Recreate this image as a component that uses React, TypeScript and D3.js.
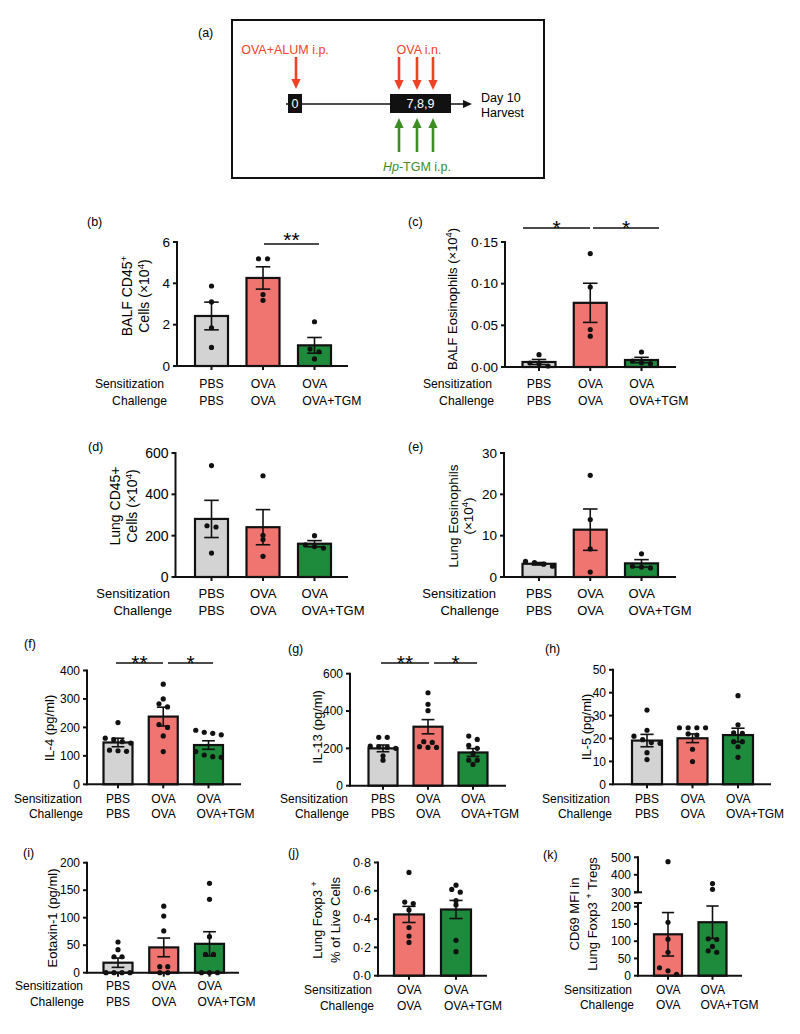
import React from "react";
import * as d3 from "d3";

// ---------- shared categories ----------
const groups3 = ["PBS/PBS", "OVA/OVA", "OVA/OVA+TGM"];
const groups2 = ["OVA/OVA", "OVA/OVA+TGM"];
const sensitization3 = ["PBS", "OVA", "OVA"];
const challenge3 = ["PBS", "OVA", "OVA+TGM"];
const sensitization2 = ["OVA", "OVA"];
const challenge2 = ["OVA", "OVA+TGM"];

// ---------- (b) BALF CD45+ ----------
const bTicks = [0, 2, 4, 6];
const bMeans = [2.42, 4.26, 1.0];
const bSem = [0.67, 0.54, 0.38];
const bPoints = [[3.87, 3.1, 1.85, 0.9], [5.19, 5.19, 3.46, 3.18], [2.14, 0.82, 0.69, 0.34]];

// ---------- (c) BALF eosinophils ----------
const cTicks = [0, 0.05, 0.1, 0.15];
const cTickLabels = ["0·00", "0·05", "0·10", "0·15"];
const cMeans = [0.006, 0.077, 0.0084];
const cSem = [0.003, 0.0235, 0.0032];
const cPoints = [[0.0148, 0.0048, 0.004, 0.0012], [0.136, 0.096, 0.045, 0.037], [0.018, 0.007, 0.005, 0.004]];

// ---------- (d) Lung CD45+ ----------
const dTicks = [0, 200, 400, 600];
const dMeans = [281, 241, 161];
const dSem = [90, 85, 15];
const dPoints = [[539, 248, 242, 116], [490, 202, 181, 100], [200, 155, 147, 140]];

// ---------- (e) Lung eosinophils ----------
const eTicks = [0, 10, 20, 30];
const eMeans = [3.2, 11.45, 3.3];
const eSem = [0.3, 5.0, 0.9];
const ePoints = [[3.8, 3.5, 3.1, 2.6], [24.6, 13.9, 6.8, 1.2], [5.6, 2.6, 2.4, 2.2]];

// ---------- (f) IL-4 ----------
const fTicks = [0, 100, 200, 300, 400];
const fMeans = [147, 238, 138];
const fSem = [15, 33, 15];
const fPoints = [
  [217, 162, 157, 150, 145, 120, 118, 116],
  [352, 300, 283, 272, 210, 200, 170, 115],
  [190, 183, 179, 174, 115, 103, 97, 95],
];

// ---------- (g) IL-13 ----------
const gTicks = [0, 200, 400, 600];
const gMeans = [200, 316, 178];
const gSem = [18, 38, 21];
const gPoints = [
  [259, 259, 212, 208, 205, 200, 160, 137],
  [498, 436, 402, 236, 232, 209, 205, 205],
  [266, 248, 216, 200, 173, 137, 137, 114],
];

// ---------- (h) IL-5 ----------
const hTicks = [0, 10, 20, 30, 40, 50];
const hMeans = [19.1, 20.1, 21.5];
const hSem = [2.7, 1.9, 3.0];
const hPoints = [
  [32.4, 23.6, 21, 19.5, 18.2, 17.9, 13.8, 10.8],
  [24.7, 24.7, 24.7, 24.7, 22, 21.5, 15.3, 9.9],
  [38.7, 26, 22.5, 22.3, 18.6, 18.6, 16.4, 11.8],
];

// ---------- (i) Eotaxin-1 ----------
const iTicks = [0, 50, 100, 150, 200];
const iMeans = [18.2, 46, 52.5];
const iSem = [8.5, 17, 22];
const iPoints = [
  [55.8, 41.8, 29, 29, 0, 0, 0, 0],
  [121, 103, 76, 11, 11, 0, 0],
  [162.5, 133.5, 65.5, 33.3, 33.3, 0, 0, 0],
];

// ---------- (j) Lung Foxp3+ ----------
const jTicks = [0, 0.2, 0.4, 0.6, 0.8];
const jTickLabels = ["0·0", "0·2", "0·4", "0·6", "0·8"];
const jMeans = [0.433, 0.468];
const jSem = [0.057, 0.064];
const jPoints = [[0.73, 0.52, 0.51, 0.465, 0.34, 0.28, 0.235], [0.64, 0.61, 0.59, 0.53, 0.5, 0.25, 0.17]];

// ---------- (k) CD69 MFI ----------
const kTicksLow = [0, 50, 100, 150, 200];
const kTicksHigh = [300, 400, 500];
const kMeans = [120, 155];
const kSem = [63, 47];
const kPoints = [[475, 155, 106, 68, 23, 14, 4], [350, 317, 107, 105, 85, 72, 68]];

// ---------- (a) schematic text ----------
const aSensText = "OVA+ALUM i.p.";
const aChalText = "OVA i.n.";
const aDay0 = "0";
const aDays = "7,8,9";
const aHarvest = ["Day 10", "Harvest"];

const FONT = "'Liberation Sans', Arial, Helvetica, sans-serif";
const COLORS3 = ["#d3d3d3", "#f07571", "#1e8a3c"];
const COLORS2 = ["#f07571", "#1e8a3c"];

type Seg = { t: string; sup?: boolean };

function Rich({ parts }: { parts: Seg[] }) {
  return (
    <>
      {parts.map((p, i) =>
        p.sup ? (
          <tspan key={i} baselineShift="super" fontSize="0.7em">
            {p.t}
          </tspan>
        ) : (
          <tspan key={i}>{p.t}</tspan>
        )
      )}
    </>
  );
}

function swarm(vals: number[], yf: (v: number) => number, step: number, thr = 3.5) {
  const items = vals.map((v, i) => ({ v, i, py: yf(v), dx: 0 })).sort((a, b) => a.py - b.py);
  const clusters: (typeof items)[] = [];
  items.forEach((it) => {
    const cur = clusters[clusters.length - 1];
    if (cur && it.py - cur[cur.length - 1].py < thr) cur.push(it);
    else clusters.push([it]);
  });
  clusters.forEach((cl) => {
    const n = cl.length;
    cl.forEach((it, k) => (it.dx = (k - (n - 1) / 2) * step));
  });
  return items;
}

type PanelProps = {
  label: string;
  labelX: number;
  labelY: number;
  groups: string[];
  sens: string[];
  chal: string[];
  colors: string[];
  means: number[];
  sem: number[];
  points: number[][];
  ticks: number[];
  tickLabels?: string[];
  domain?: [number, number];
  axisX: number;
  y0: number;
  yTop: number;
  xEnd: number;
  firstC: number;
  lastC: number;
  barW: number;
  step: number;
  ylab: { x: number; parts: Seg[] }[];
  ylabCy: number;
  sensBase: number;
  chalBase: number;
  sensEnd: number;
  chalEnd: number;
  tickFs?: number;
  catFs?: number;
  ylabFs?: number;
  sig?: { x1: number; x2: number; y: number; text: string; dy?: number }[];
  broken?: boolean;
};

function Panel(p: PanelProps) {
  const tickFs = p.tickFs ?? 12;
  const catFs = p.catFs ?? 12;
  const ylabFs = p.ylabFs ?? 13;
  let yf: (v: number) => number;
  let lowScale: d3.ScaleLinear<number, number> | null = null;
  let highScale: d3.ScaleLinear<number, number> | null = null;
  if (p.broken) {
    lowScale = d3.scaleLinear().domain([0, 200]).range([p.y0, 906.7]);
    highScale = d3.scaleLinear().domain([300, 500]).range([892.3, 857.3]);
    const ls = lowScale, hs = highScale;
    yf = (v: number) => (v <= 250 ? ls(v) : hs(v));
  } else {
    const s = d3.scaleLinear().domain(p.domain!).range([p.y0, p.yTop]);
    yf = (v: number) => s(v);
  }
  const x = d3.scalePoint<string>().domain(p.groups).range([p.firstC, p.lastC]);
  const capW = p.barW * 0.44;
  const tick = 4;

  return (
    <g fontFamily={FONT}>
      <text x={p.labelX} y={p.labelY} fontSize={12.5}>
        {p.label}
      </text>
      {/* bars */}
      {p.groups.map((g, i) => {
        const cx = x(g)!;
        const top = yf(p.means[i]);
        return (
          <rect
            key={"b" + i}
            x={cx - p.barW / 2}
            y={top}
            width={p.barW}
            height={p.y0 - top}
            fill={p.colors[i]}
            stroke="#111"
            strokeWidth={2.2}
          />
        );
      })}
      {/* error bars */}
      {p.groups.map((g, i) => {
        const cx = x(g)!;
        const yu = yf(p.means[i] + p.sem[i]);
        const yl = yf(Math.max(0, p.means[i] - p.sem[i]));
        return (
          <g key={"e" + i} stroke="#111" strokeWidth={1.6}>
            <line x1={cx} x2={cx} y1={yu} y2={yl} />
            <line x1={cx - capW / 2} x2={cx + capW / 2} y1={yu} y2={yu} />
            <line x1={cx - capW / 2} x2={cx + capW / 2} y1={yl} y2={yl} />
          </g>
        );
      })}
      {/* dots */}
      {p.groups.map((g, i) => {
        const cx = x(g)!;
        const pts = swarm(p.points[i], yf, p.step);
        return (
          <g key={"d" + i}>
            {pts.map((pt, k) => (
              <circle key={k} cx={cx + pt.dx} cy={pt.py} r={2.6} fill="#111" />
            ))}
          </g>
        );
      })}
      {/* y axis */}
      {p.broken ? (
        <g stroke="#111" strokeWidth={2}>
          <line x1={p.axisX} x2={p.axisX} y1={highScale!(500) - 1} y2={highScale!(300)} />
          <line x1={p.axisX - 4} x2={p.axisX + 4} y1={highScale!(300)} y2={highScale!(300)} />
          <line x1={p.axisX} x2={p.axisX} y1={903} y2={p.y0 + 1} />
          <line x1={p.axisX - 4} x2={p.axisX + 4} y1={903} y2={903} />
          {kTicksHigh.map((t) => (
            <line key={"h" + t} x1={p.axisX - tick} x2={p.axisX} y1={highScale!(t)} y2={highScale!(t)} />
          ))}
          {kTicksLow.map((t) => (
            <line key={"l" + t} x1={p.axisX - tick} x2={p.axisX} y1={lowScale!(t)} y2={lowScale!(t)} />
          ))}
        </g>
      ) : (
        <g stroke="#111" strokeWidth={2}>
          <line x1={p.axisX} x2={p.axisX} y1={p.yTop - 1} y2={p.y0 + 1} />
          {p.ticks.map((t) => (
            <line key={t} x1={p.axisX - tick} x2={p.axisX} y1={yf(t)} y2={yf(t)} />
          ))}
        </g>
      )}
      {(p.broken ? [...kTicksLow, ...kTicksHigh] : p.ticks).map((t, k) => (
        <text
          key={"tl" + t}
          x={p.axisX - 7}
          y={yf(t)}
          dy="0.35em"
          fontSize={tickFs}
          textAnchor="end"
        >
          {p.tickLabels ? p.tickLabels[k] : String(t)}
        </text>
      ))}
      {/* x axis */}
      <g stroke="#111" strokeWidth={2}>
        <line x1={p.axisX - 1} x2={p.xEnd} y1={p.y0} y2={p.y0} />
        {p.groups.map((g) => (
          <line key={g} x1={x(g)!} x2={x(g)!} y1={p.y0} y2={p.y0 + tick} />
        ))}
      </g>
      {/* y label */}
      {p.ylab.map((l, k) => (
        <text
          key={"yl" + k}
          transform={`translate(${l.x},${p.ylabCy}) rotate(-90)`}
          textAnchor="middle"
          fontSize={ylabFs}
        >
          <Rich parts={l.parts} />
        </text>
      ))}
      {/* category table */}
      <text x={p.sensEnd} y={p.sensBase} fontSize={catFs} textAnchor="end">
        Sensitization
      </text>
      <text x={p.chalEnd} y={p.chalBase} fontSize={catFs} textAnchor="end">
        Challenge
      </text>
      {p.groups.map((g, i) => (
        <g key={"c" + i} fontSize={catFs}>
          <text x={x(g)! - catFs} y={p.sensBase}>
            {p.sens[i]}
          </text>
          <text x={x(g)! - catFs} y={p.chalBase}>
            {p.chal[i]}
          </text>
        </g>
      ))}
      {/* significance */}
      {(p.sig || []).map((s, k) => (
        <g key={"s" + k}>
          <line x1={s.x1} x2={s.x2} y1={s.y} y2={s.y} stroke="#111" strokeWidth={1.5} />
          <text x={(s.x1 + s.x2) / 2} y={s.y + (s.dy ?? 6.5)} fontSize={21} textAnchor="middle">
            {s.text}
          </text>
        </g>
      ))}
    </g>
  );
}

function Arrow({ x, y1, y2, color }: { x: number; y1: number; y2: number; color: string }) {
  const dir = y2 > y1 ? 1 : -1;
  const hl = 10;
  const hw = 4.6;
  return (
    <g>
      <line x1={x} x2={x} y1={y1} y2={y2 - dir * (hl - 1)} stroke={color} strokeWidth={2.6} />
      <polygon points={`${x - hw},${y2 - dir * hl} ${x + hw},${y2 - dir * hl} ${x},${y2}`} fill={color} />
    </g>
  );
}

function Schematic() {
  const red = "#ee4227";
  const green = "#3d8c26";
  const redXs = [399, 417, 433];
  return (
    <g fontFamily={FONT}>
      <text x={198} y={37} fontSize={12.5}>
        (a)
      </text>
      <rect x={232} y={20} width={312} height={158} fill="none" stroke="#111" strokeWidth={2} />
      <line x1={286} x2={466} y1={104} y2={104} stroke="#111" strokeWidth={1.6} />
      <polygon points="472,104 463,100 463,108" fill="#111" />
      <rect x={288} y={94} width={14} height={19} fill="#111" />
      <text x={295} y={108} fill="#fff" fontSize={12.5} textAnchor="middle">
        {aDay0}
      </text>
      <rect x={390} y={94} width={61} height={19} fill="#111" />
      <text x={420.5} y={108} fill="#fff" fontSize={12.5} textAnchor="middle">
        {aDays}
      </text>
      <text x={285} y={54} fill={red} fontSize={12.5} textAnchor="middle">
        {aSensText}
      </text>
      <Arrow x={296} y1={57} y2={89} color={red} />
      <text x={419} y={54} fill={red} fontSize={12.5} textAnchor="middle">
        {aChalText}
      </text>
      {redXs.map((xx) => (
        <Arrow key={"r" + xx} x={xx} y1={57} y2={90} color={red} />
      ))}
      {redXs.map((xx) => (
        <Arrow key={"g" + xx} x={xx} y1={152} y2={118} color={green} />
      ))}
      <text x={417} y={171} fill={green} fontSize={12.5} textAnchor="middle">
        <tspan fontStyle="italic">Hp</tspan>
        <tspan>-TGM i.p.</tspan>
      </text>
      <text x={481} y={102} fontSize={12.5}>
        {aHarvest[0]}
      </text>
      <text x={481} y={117} fontSize={12.5}>
        {aHarvest[1]}
      </text>
    </g>
  );
}

export default function App() {
  const common3 = { groups: groups3, sens: sensitization3, chal: challenge3, colors: COLORS3 };
  const common2 = { groups: groups2, sens: sensitization2, chal: challenge2, colors: COLORS2 };
  return (
    <div style={{ position: "absolute", left: 0, top: 0 }}>
      <svg width={800} height={1034} viewBox="0 0 800 1034" style={{ display: "block", background: "#fff" }}>
        <Schematic />
        <Panel
          {...common3}
          label="(b)" labelX={87} labelY={226}
          means={bMeans} sem={bSem} points={bPoints} ticks={bTicks} domain={[0, 6]}
          axisX={177} y0={366} yTop={242} xEnd={348} firstC={211.5} lastC={314.5} barW={33} step={9}
          ylab={[
            { x: 132, parts: [{ t: "BALF CD45" }, { t: "+", sup: true }] },
            { x: 148.5, parts: [{ t: "Cells (×10" }, { t: "4", sup: true }, { t: ")" }] },
          ]}
          ylabCy={296}
          sensBase={388} chalBase={405} sensEnd={164} chalEnd={167}
          tickFs={13.5} catFs={12.2} ylabFs={14}
          sig={[{ x1: 264, x2: 319, y: 244, text: "**", dy: 3 }]}
        />
        <Panel
          {...common3}
          label="(c)" labelX={408} labelY={226}
          means={cMeans} sem={cSem} points={cPoints} ticks={cTicks} tickLabels={cTickLabels} domain={[0, 0.15]}
          axisX={505} y0={367} yTop={242} xEnd={676} firstC={539} lastC={641.5} barW={33} step={9}
          ylab={[{ x: 456.5, parts: [{ t: "BALF Eosinophils (×10" }, { t: "4", sup: true }, { t: ")" }] }]}
          ylabCy={299}
          sensBase={388} chalBase={405} sensEnd={492} chalEnd={494}
          tickFs={13.5} catFs={12.2} ylabFs={13}
          sig={[
            { x1: 523, x2: 590, y: 228, text: "*" },
            { x1: 593, x2: 659, y: 228, text: "*" },
          ]}
        />
        <Panel
          {...common3}
          label="(d)" labelX={88} labelY={451}
          means={dMeans} sem={dSem} points={dPoints} ticks={dTicks} domain={[0, 600]}
          axisX={175.5} y0={577} yTop={453} xEnd={348} firstC={211.5} lastC={314.5} barW={33} step={9}
          ylab={[
            { x: 120, parts: [{ t: "Lung CD45+" }] },
            { x: 137, parts: [{ t: "Cells (×10" }, { t: "4", sup: true }, { t: ")" }] },
          ]}
          ylabCy={506}
          sensBase={598} chalBase={615} sensEnd={170} chalEnd={172}
          tickFs={14} catFs={13} ylabFs={14}
        />
        <Panel
          {...common3}
          label="(e)" labelX={408} labelY={451}
          means={eMeans} sem={eSem} points={ePoints} ticks={eTicks} domain={[0, 30]}
          axisX={504} y0={577} yTop={453} xEnd={676} firstC={539} lastC={641.5} barW={33} step={9}
          ylab={[
            { x: 457.5, parts: [{ t: "Lung Eosinophils" }] },
            { x: 473, parts: [{ t: "(×10" }, { t: "4", sup: true }, { t: ")" }] },
          ]}
          ylabCy={516}
          sensBase={598} chalBase={615} sensEnd={496} chalEnd={499}
          tickFs={13.5} catFs={13} ylabFs={13.5}
        />
        <Panel
          {...common3}
          label="(f)" labelX={24} labelY={648}
          means={fMeans} sem={fSem} points={fPoints} ticks={fTicks} domain={[0, 400]}
          axisX={87} y0={784.3} yTop={670.5} xEnd={241} firstC={118} lastC={208.5} barW={29} step={8.5}
          ylab={[{ x: 53.5, parts: [{ t: "IL-4 (pg/ml)" }] }]}
          ylabCy={728}
          sensBase={802.5} chalBase={818} sensEnd={82} chalEnd={83}
          sig={[
            { x1: 116, x2: 163, y: 663, text: "**" },
            { x1: 168, x2: 213, y: 663, text: "*" },
          ]}
        />
        <Panel
          {...common3}
          label="(g)" labelX={288} labelY={653}
          means={gMeans} sem={gSem} points={gPoints} ticks={gTicks} domain={[0, 600]}
          axisX={350} y0={785.7} yTop={673.7} xEnd={506} firstC={383} lastC={473} barW={29} step={8.5}
          ylab={[{ x: 322, parts: [{ t: "IL-13 (pg/ml)" }] }]}
          ylabCy={727}
          sensBase={802.5} chalBase={818} sensEnd={348} chalEnd={349}
          sig={[
            { x1: 381, x2: 429, y: 663, text: "**" },
            { x1: 434, x2: 477, y: 663, text: "*" },
          ]}
        />
        <Panel
          {...common3}
          label="(h)" labelX={545} labelY={653}
          means={hMeans} sem={hSem} points={hPoints} ticks={hTicks} domain={[0, 50]}
          axisX={613} y0={784.3} yTop={669.8} xEnd={771} firstC={647} lastC={738} barW={30} step={8.7}
          ylab={[{ x: 590.5, parts: [{ t: "IL-5 (pg/ml)" }] }]}
          ylabCy={727}
          sensBase={802.5} chalBase={818} sensEnd={610} chalEnd={612}
        />
        <Panel
          {...common3}
          label="(i)" labelX={23} labelY={857}
          means={iMeans} sem={iSem} points={iPoints} ticks={iTicks} domain={[0, 200]}
          axisX={87} y0={972.7} yTop={862.7} xEnd={239} firstC={118} lastC={209.5} barW={29} step={8}
          ylab={[{ x: 56.5, parts: [{ t: "Eotaxin-1 (pg/ml)" }] }]}
          ylabCy={918}
          sensBase={990} chalBase={1006} sensEnd={83} chalEnd={84}
        />
        <Panel
          {...common2}
          label="(j)" labelX={288} labelY={857}
          means={jMeans} sem={jSem} points={jPoints} ticks={jTicks} tickLabels={jTickLabels} domain={[0, 0.8]}
          axisX={378} y0={975.7} yTop={862.5} xEnd={487} firstC={409} lastC={456} barW={30} step={8.5}
          ylab={[
            { x: 321.5, parts: [{ t: "Lung Foxp3 " }, { t: "+", sup: true }] },
            { x: 339.5, parts: [{ t: "% of Live Cells" }] },
          ]}
          ylabCy={920}
          sensBase={994} chalBase={1010} sensEnd={372} chalEnd={374}
          tickFs={12.5}
        />
        <Panel
          {...common2}
          label="(k)" labelX={543} labelY={859}
          means={kMeans} sem={kSem} points={kPoints} ticks={kTicksLow}
          axisX={638} y0={975.7} yTop={857} xEnd={742} firstC={668} lastC={712.5} barW={28} step={8.5}
          ylab={[
            { x: 578.5, parts: [{ t: "CD69 MFI in" }] },
            { x: 597, parts: [{ t: "Lung Foxp3 " }, { t: "+", sup: true }, { t: " Tregs" }] },
          ]}
          ylabCy={914}
          sensBase={994} chalBase={1009} sensEnd={632} chalEnd={634}
          broken
        />
      </svg>
    </div>
  );
}
